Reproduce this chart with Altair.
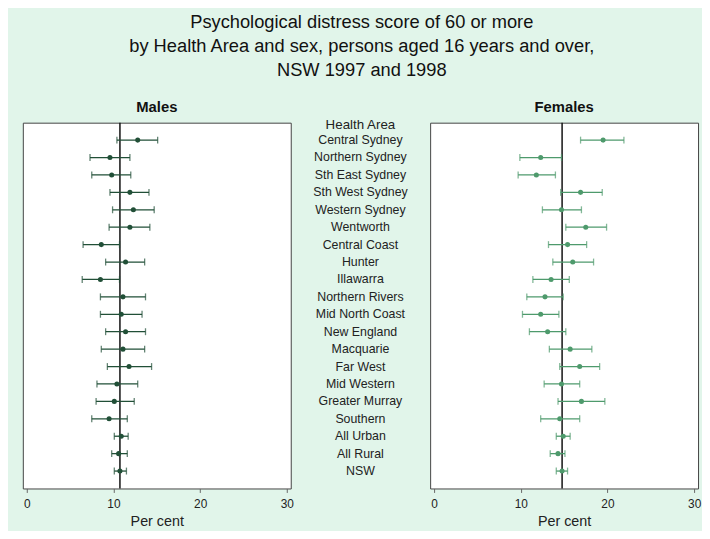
import altair as alt
import pandas as pd

areas = ["Central Sydney", "Northern Sydney", "Sth East Sydney", "Sth West Sydney",
         "Western Sydney", "Wentworth", "Central Coast", "Hunter", "Illawarra",
         "Northern Rivers", "Mid North Coast", "New England", "Macquarie", "Far West",
         "Mid Western", "Greater Murray", "Southern", "All Urban", "All Rural", "NSW"]

male_lo = [10.4, 7.3, 7.5, 9.6, 9.9, 9.5, 6.5, 9.1, 6.4, 8.5, 8.5, 9.1, 8.6, 9.3, 8.1, 8.0, 7.5, 10.1, 9.8, 10.1]
male_pt = [12.8, 9.6, 9.8, 11.9, 12.3, 11.9, 8.6, 11.4, 8.5, 11.1, 10.9, 11.4, 11.1, 11.8, 10.4, 10.1, 9.5, 10.9, 10.6, 10.75]
male_hi = [15.1, 11.9, 12.0, 14.1, 14.7, 14.2, 10.7, 13.6, 10.7, 13.7, 13.3, 13.7, 13.6, 14.4, 12.8, 12.4, 11.6, 11.7, 11.6, 11.5]

female_lo = [16.9, 9.9, 9.7, 14.6, 12.5, 15.2, 13.2, 13.7, 11.4, 10.7, 10.2, 11.0, 13.3, 14.5, 12.7, 14.3, 12.3, 14.1, 13.4, 14.1]
female_pt = [19.5, 12.3, 11.8, 16.9, 14.7, 17.5, 15.4, 16.0, 13.5, 12.8, 12.3, 13.1, 15.7, 16.8, 14.7, 17.0, 14.5, 14.9, 14.3, 14.77]
female_hi = [21.9, 14.7, 14.0, 19.4, 17.0, 19.9, 17.6, 18.4, 15.6, 14.9, 14.4, 15.2, 18.2, 19.1, 16.8, 19.7, 16.8, 15.7, 15.1, 15.4]

x_ticks = [0, 10, 20, 30]
title_lines = ["Psychological distress score of 60 or more",
               "by Health Area and sex, persons aged 16 years and over,",
               "NSW 1997 and 1998"]

FONT = "Liberation Sans"
BG = "#e1f5ea"
PW, PH, MW = 271, 370, 141

y_enc = alt.Y("area:N", sort=areas, scale=alt.Scale(type="point", padding=1), axis=None)


def panel(lo, pt, hi, color, name):
    df = pd.DataFrame({"area": areas, "lo": lo, "pt": pt, "hi": hi})
    ref = pd.DataFrame({"ref": [pt[areas.index("NSW")]]})
    xs = alt.Scale(domain=[-0.45, 30.45], nice=False, zero=False)
    base = alt.Chart(df)
    bars = base.mark_rule(color=color, strokeWidth=1.3).encode(
        x=alt.X("lo:Q", scale=xs, axis=alt.Axis(
            values=x_ticks, title="Per cent", grid=False, domain=False,
            tickColor="#666", tickSize=4, labelFontSize=12, labelFont=FONT,
            labelColor="#222", labelPadding=6, titleFont=FONT, titleFontSize=14.5,
            titleFontWeight="normal", titleColor="#222", titlePadding=5)),
        x2="hi:Q", y=y_enc)
    cap_lo = base.mark_tick(color=color, size=7, thickness=1.3).encode(x="lo:Q", y=y_enc)
    cap_hi = base.mark_tick(color=color, size=7, thickness=1.3).encode(x="hi:Q", y=y_enc)
    dots = base.mark_circle(color=color, size=26, opacity=1).encode(x="pt:Q", y=y_enc)
    rule = alt.Chart(ref).mark_rule(color="#111", strokeWidth=1.5).encode(x="ref:Q")
    return alt.layer(rule, bars, cap_lo, cap_hi, dots).properties(
        width=PW, height=PH,
        title=alt.TitleParams(name, font=FONT, fontSize=15, fontWeight="bold",
                              color="#111", anchor="middle", offset=7))


males = panel(male_lo, male_pt, male_hi, "#214f37", "Males")
females = panel(female_lo, female_pt, female_hi, "#4e9a6c", "Females")

labels = alt.Chart(pd.DataFrame({"area": areas})).mark_text(
    font=FONT, fontSize=12.5, color="#222").encode(
    y=y_enc, x=alt.value(MW / 2), text="area:N")
header = alt.Chart(pd.DataFrame({"h": ["Health Area"]})).mark_text(
    font=FONT, fontSize=13.5, color="#222").encode(
    x=alt.value(MW / 2), y=alt.value(2), text="h:N")
middle = alt.layer(header, labels).properties(
    width=MW, height=PH,
    view=alt.ViewBackground(stroke="transparent", fill="transparent"))

chart = alt.hconcat(males, middle, females, spacing=0, bounds="flush").properties(
    title=alt.TitleParams(title_lines, font=FONT, fontSize=18.5, fontWeight="normal",
                          color="#111", lineHeight=24.5, anchor="middle", offset=20),
    background=BG,
    padding={"left": 14, "top": 2, "right": 0, "bottom": 0},
).configure_view(stroke="#444", fill="white")

chart.save("out.html", embed_options={"renderer": "svg", "actions": False})
